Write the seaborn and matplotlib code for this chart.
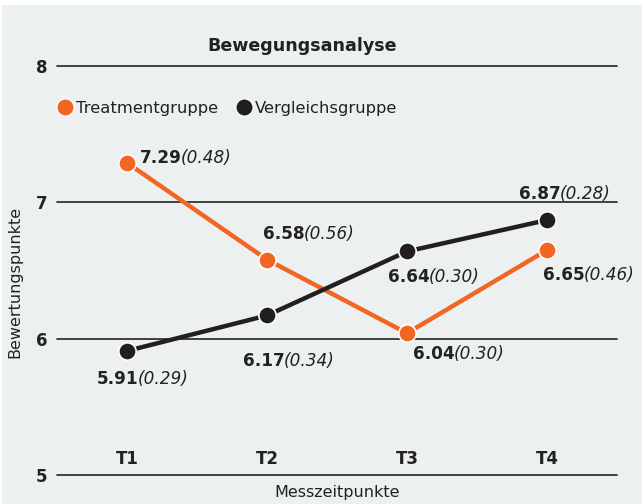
import matplotlib
matplotlib.use("Agg")
import matplotlib.pyplot as plt
import seaborn as sns
import pandas as pd
from matplotlib.patches import Rectangle
from matplotlib.lines import Line2D

# Data
zeitpunkte = ["T1", "T2", "T3", "T4"]
treatment = [7.29, 6.58, 6.04, 6.65]
treatment_sd = [0.48, 0.56, 0.30, 0.46]
vergleich = [5.91, 6.17, 6.64, 6.87]
vergleich_sd = [0.29, 0.34, 0.30, 0.28]
gruppen = ["Treatmentgruppe", "Vergleichsgruppe"]
y_ticks = [5, 6, 7, 8]

ORANGE = "#f26522"
BLACK = "#231f20"
BG = "#edf0f1"
TXT = "#222222"

sns.set_theme(style="white")
plt.rcParams["font.family"] = ["DejaVu Sans"]

df = pd.DataFrame({
    "Zeit": zeitpunkte * 2,
    "Wert": treatment + vergleich,
    "Gruppe": [gruppen[0]] * 4 + [gruppen[1]] * 4,
})

fig = plt.figure(figsize=(6.42, 5.04), dpi=100, facecolor="white")
fig.patches.append(Rectangle((2 / 642, 0), 1, 1 - 5 / 504, transform=fig.transFigure,
                             facecolor=BG, edgecolor="none", zorder=-10))
ax = fig.add_axes([57 / 642, 1 - 475 / 504, (617 - 57) / 642, (475 - 66) / 504])
ax.set_facecolor("none")

sns.lineplot(data=df, x="Zeit", y="Wert", hue="Gruppe", palette=[ORANGE, BLACK],
             marker="o", markersize=12.5, markeredgecolor="white", markeredgewidth=1.2,
             linewidth=3.2, ax=ax, legend=False, zorder=3)

ax.set_xlim(-0.5, 3.5)
ax.set_ylim(5, 8)
ax.set_yticks(y_ticks)
for y in y_ticks:
    ax.axhline(y, color="#333333", linewidth=1.3, clip_on=False, zorder=1)
for s in ax.spines.values():
    s.set_visible(False)
ax.set_xlabel("")
ax.set_ylabel("")
ax.tick_params(axis="x", length=0, pad=-18, labelsize=12)
ax.tick_params(axis="y", length=0, pad=7, labelsize=12)
for lab in ax.get_xticklabels() + ax.get_yticklabels():
    lab.set_fontweight("bold")
    lab.set_color(TXT)

# Value labels: offsets in pixels relative to the point (left edge of text, vertical center)
offs_t = [(13, 5), (-4, 26), (6, -21), (-4, -25)]
offs_v = [(-30, -28), (-24, -46), (-19, -26), (-28, 26)]

def label(i, val, sd, off):
    t1 = ax.annotate(f"{val:.2f}", xy=(i, val), xytext=off, textcoords="offset pixels",
                     ha="left", va="center", fontsize=12.2, fontweight="bold", color=TXT)
    ax.annotate(f"({sd:.2f})", xy=(1, 0.5), xycoords=t1, xytext=(-1, 0),
                textcoords="offset pixels", ha="left", va="center", fontsize=12.2,
                fontstyle="italic", color=TXT)

for i in range(4):
    label(i, treatment[i], treatment_sd[i], offs_t[i])
    label(i, vergleich[i], vergleich_sd[i], offs_v[i])

# Legend
handles = [Line2D([], [], marker="o", linestyle="none", markersize=12.5, color=ORANGE,
                  markeredgecolor="white"),
           Line2D([], [], marker="o", linestyle="none", markersize=12.5, color=BLACK,
                  markeredgecolor="white")]
fig.legend(handles, gruppen, loc="center left", bbox_to_anchor=(57 / 642, 1 - 108 / 504),
           ncol=2, frameon=False, handletextpad=0.15, columnspacing=1.1,
           fontsize=11.8, handlelength=1.0, borderaxespad=0, borderpad=0, labelcolor=TXT)

fig.text(302 / 642, 1 - 46 / 504, "Bewegungsanalyse", ha="center", va="center",
         fontsize=12.6, fontweight="bold", color=TXT)
fig.text(337 / 642, 1 - 493 / 504, "Messzeitpunkte", ha="center", va="center",
         fontsize=11.5, color=TXT)
fig.text(15 / 642, 1 - 282 / 504, "Bewertungspunkte", ha="center", va="center",
         rotation=90, fontsize=11.5, color=TXT)

fig.savefig("out.png", dpi=100, facecolor="white")
